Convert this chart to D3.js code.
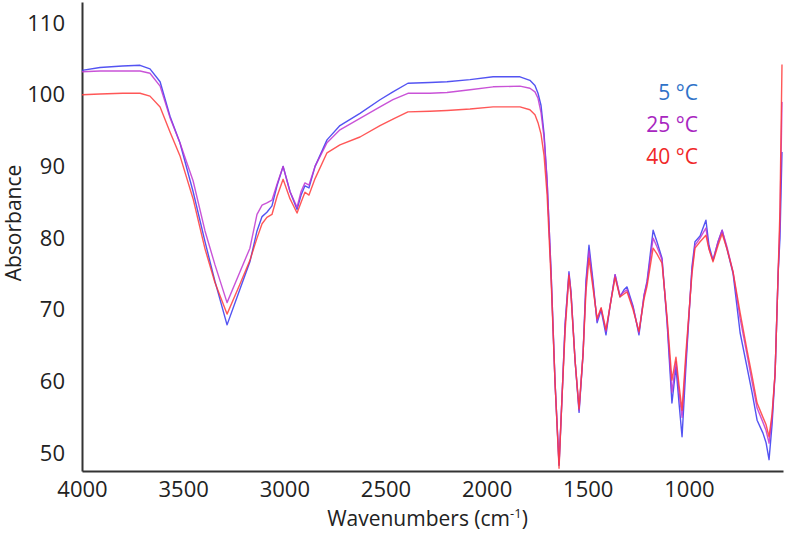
<!DOCTYPE html>
<html>
<head>
<meta charset="utf-8">
<script src="https://cdn.jsdelivr.net/npm/d3@7"></script>
<style>
  body { margin: 0; background: #fff; }
  text { font-family: "Open Sans", "DejaVu Sans", sans-serif; fill: #222; }
</style>
</head>
<body>
<div id="chart"></div>
<script>
// wavenumbers (cm-1)
var wavenumbers = [4000, 3911, 3800, 3713, 3664, 3614, 3565, 3516, 3451, 3392, 3343, 3283, 3219, 3170, 3135, 3110, 3086, 3061, 3036, 3006,
    2972, 2937, 2917, 2898, 2878, 2848, 2789, 2725, 2626, 2527, 2463, 2389, 2280, 2196, 2082, 1968, 1835, 1786, 1761, 1746,
    1731, 1716, 1701, 1681, 1662, 1642, 1627, 1612, 1593, 1583, 1563, 1543, 1523, 1509, 1494, 1474, 1454, 1434, 1410, 1390,
    1365, 1341, 1321, 1306, 1276, 1247, 1222, 1207, 1177, 1158, 1133, 1108, 1084, 1064, 1049, 1034, 1015, 985, 970, 945,
    916, 901, 881, 856, 836, 812, 782, 747, 713, 688, 663, 634, 619, 604, 589, 574, 559, 550, 540];

var abs5 = [103.4, 103.8, 104.0, 104.1, 103.6, 101.8, 97.0, 93.3, 86.5, 79.5, 74.0, 67.9, 72.9, 76.7, 81.0, 83.0, 83.6, 84.5, 87.3, 90.0,
    86.5, 84.0, 86.0, 87.3, 87.0, 90.0, 93.7, 95.7, 97.4, 99.3, 100.4, 101.6, 101.7, 101.8, 102.1, 102.5, 102.5, 102.0, 101.3, 100.2,
    98.5, 94.5, 88.0, 75.0, 60.0, 48.3, 58.0, 68.0, 75.3, 72.5, 63.0, 55.7, 64.0, 74.0, 79.0, 74.0, 68.2, 70.0, 66.5, 70.5,
    74.9, 71.8, 72.8, 73.2, 70.5, 66.5, 72.0, 74.0, 81.1, 79.5, 77.2, 68.2, 57.0, 62.0, 57.0, 52.3, 62.0, 76.0, 79.5, 80.3,
    82.5, 79.0, 76.9, 79.5, 81.1, 78.5, 75.1, 66.8, 62.0, 58.5, 54.6, 52.8, 51.5, 49.1, 54.0, 61.2, 75.1, 80.0, 92.0];

var abs25 = [103.2, 103.3, 103.3, 103.3, 103.0, 101.2, 96.8, 93.3, 88.0, 81.0, 76.3, 71.0, 75.3, 78.6, 83.3, 84.6, 84.9, 85.3, 87.5, 90.0,
    86.5, 84.3, 86.5, 87.7, 87.4, 90.0, 93.3, 95.1, 96.7, 98.3, 99.3, 100.2, 100.2, 100.3, 100.7, 101.1, 101.2, 100.9, 100.4, 99.5,
    97.5, 94.0, 88.0, 75.0, 60.0, 48.5, 58.0, 68.0, 75.0, 72.5, 63.0, 56.0, 64.0, 73.5, 78.2, 73.5, 68.5, 70.2, 67.0, 70.5,
    74.9, 72.0, 72.5, 72.8, 70.3, 66.8, 72.0, 73.8, 80.0, 78.8, 77.0, 68.5, 58.5, 62.8, 58.5, 55.0, 63.0, 75.5, 79.0, 80.0,
    81.4, 78.5, 76.9, 79.5, 81.1, 78.8, 75.3, 68.8, 63.8, 60.0, 56.3, 54.3, 53.2, 51.4, 55.0, 61.2, 75.1, 82.0, 99.0];

var abs40 = [100.0, 100.1, 100.2, 100.2, 99.8, 98.3, 94.8, 91.5, 85.5, 78.5, 73.8, 69.4, 73.6, 76.9, 80.0, 82.0, 82.9, 83.3, 85.8, 88.2,
    85.5, 83.5, 85.0, 86.4, 86.0, 88.3, 91.9, 93.0, 94.1, 95.7, 96.6, 97.6, 97.7, 97.8, 98.0, 98.3, 98.3, 97.9, 97.2, 96.1,
    94.5, 91.5, 86.0, 74.0, 60.0, 47.9, 58.0, 67.0, 74.8, 72.0, 63.0, 56.2, 64.0, 72.5, 77.2, 73.0, 68.8, 70.3, 67.2, 70.5,
    74.5, 71.8, 72.2, 72.5, 70.0, 67.0, 71.5, 73.3, 78.6, 77.8, 76.5, 69.0, 60.2, 63.4, 59.5, 56.0, 64.0, 75.0, 78.6, 79.5,
    80.4, 78.5, 76.7, 79.0, 80.6, 78.5, 75.3, 69.6, 64.4, 60.8, 57.0, 55.0, 54.0, 52.3, 55.5, 61.2, 75.1, 84.0, 104.2];

var seriesNames = ["5 °C", "25 °C", "40 °C"];
var seriesValues = [abs5, abs25, abs40];
var xTicks = [4000, 3500, 3000, 2500, 2000, 1500, 1000];
var yTicks = [50, 60, 70, 80, 90, 100, 110];

var lineColors = ["#3535f0", "#c035d0", "#ff3a3a"];
var labelColors = ["#2f72c8", "#a826c0", "#f02828"];

var W = 788, H = 537;
var margin = {top: 2, right: 5, bottom: 66, left: 82},
    width = W - margin.left - margin.right,
    height = H - margin.top - margin.bottom;

var svg = d3.select("#chart")
    .append("svg")
    .attr("width", W)
    .attr("height", H)
    .append("g")
    .attr("transform", "translate(" + margin.left + "," + margin.top + ")");

var x = d3.scaleLinear()
    .domain([4000, 535])
    .range([0, width]);

var y = d3.scaleLinear()
    .domain([47.52, 112.93])
    .range([height, 0]);

// axes: no tick marks, just the lines and labels
svg.append("g")
    .attr("transform", "translate(0," + height + ")")
    .call(d3.axisBottom(x).tickValues(xTicks).tickSize(0).tickPadding(10).tickFormat(d3.format("d")))
    .call(function(g) {
        g.select(".domain").attr("stroke", "#333").attr("stroke-width", 2);
        g.selectAll("text").style("font-size", "22px").attr("fill", "#222");
    });

svg.append("g")
    .call(d3.axisLeft(y).tickValues(yTicks).tickSize(0).tickPadding(17).tickFormat(d3.format("d")))
    .call(function(g) {
        g.select(".domain").attr("stroke", "#333").attr("stroke-width", 2);
        g.selectAll("text").style("font-size", "22px").attr("fill", "#222");
    });

// axis titles
var xTitle = svg.append("text")
    .attr("x", width / 2 - 5)
    .attr("y", height + 55)
    .style("text-anchor", "middle")
    .style("font-size", "21px");
xTitle.append("tspan").text("Wavenumbers (cm");
xTitle.append("tspan").attr("dy", -8).style("font-size", "13px").text("-1");
xTitle.append("tspan").attr("dy", 8).text(")");

svg.append("text")
    .attr("transform", "rotate(-90)")
    .attr("x", -(223 - margin.top))
    .attr("y", -margin.left + 21)
    .style("text-anchor", "middle")
    .style("font-size", "21px")
    .text("Absorbance");

// spectra
var line = d3.line()
    .x(function(d) { return x(d[0]); })
    .y(function(d) { return y(d[1]); });

seriesValues.forEach(function(vals, i) {
    var pts = wavenumbers.map(function(w, j) { return [w, vals[j]]; });
    svg.append("path")
        .datum(pts)
        .attr("fill", "none")
        .attr("stroke", lineColors[i])
        .attr("stroke-width", 1.4)
        .attr("stroke-opacity", 0.85)
        .attr("stroke-linejoin", "round")
        .attr("d", line);
});

// legend text
svg.selectAll(".legend")
    .data(seriesNames)
    .enter().append("text")
    .attr("class", "legend")
    .attr("x", 698 - margin.left)
    .attr("y", function(d, i) { return 93 - margin.top + i * 32; })
    .attr("dy", ".35em")
    .style("text-anchor", "end")
    .style("font-size", "21px")
    .style("fill", function(d, i) { return labelColors[i]; })
    .text(function(d) { return d; });
</script>
</body>
</html>
